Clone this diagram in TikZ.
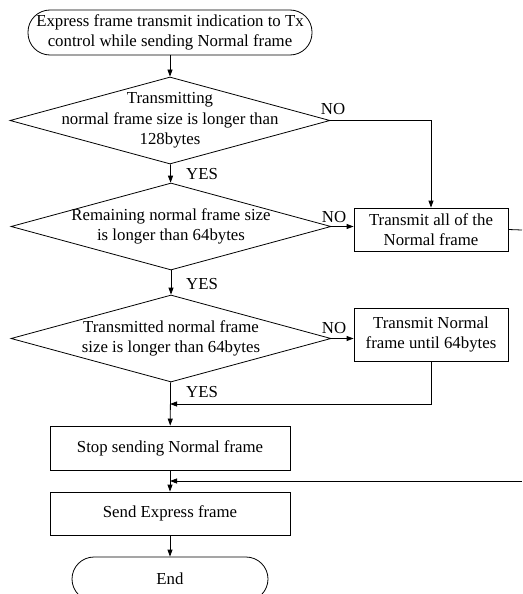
\documentclass[tikz,border=0pt]{standalone}
\usepackage{fontspec}
\setmainfont{Liberation Serif}
\usetikzlibrary{shapes.geometric,arrows.meta}
\begin{document}
\begin{tikzpicture}[x = 1pt, y = -1pt, line width = 0.8pt,
		font = \fontsize{16.8}{20.5}\selectfont,
		decision/.style = {diamond, draw, minimum width = 320pt, minimum height = 87pt, inner sep = 0pt},
		process/.style = {rectangle, draw, align = center, minimum width = 240pt, minimum height = 44pt, inner sep = 0pt},
		sidebox/.style = {rectangle, draw, align = center, minimum width = 154pt, inner sep = 0pt},
		terminal/.style = {rectangle, draw, rounded corners = 22pt, align = center, minimum height = 45pt, inner sep = 0pt},
		flow/.style = {-{Triangle[length = 7pt, width = 5pt]}},
		answer/.style = {inner sep = 0pt}]
		\useasboundingbox (0,0) rectangle (522,594);
		\clip (0,0) rectangle (522,594);
		% main column
		\node [terminal, minimum width = 284pt] (start) at (170,32.5) {Express frame transmit indication to Tx\\control while sending Normal frame};
		\node [decision] (d1) at (170,120.5) {};
		\node [align = center] (t1) at (d1) {Transmitting\\normal frame size is longer than\\128bytes};
		\node [decision] (d2) at (171,226.5) {};
		\node [align = center] (t2) at (d2) {Remaining normal frame size\\is longer than 64bytes};
		\node [decision] (d3) at (171,338.5) {};
		\node [align = center] (t3) at (d3) {Transmitted normal frame\\size is longer than 64bytes};
		\node [process] (stop) at (170,448) {Stop sending Normal frame};
		\node [process, minimum height = 43pt] (send) at (170,513.5) {Send Express frame};
		\node [terminal, minimum width = 196pt, minimum height = 44pt] (end) at (170,579) {End};
		% side column
		\node [sidebox, minimum height = 43pt] (all) at (431,229.5) {Transmit all of the\\Normal frame};
		\node [sidebox, minimum height = 53pt] (part) at (431,334.5) {Transmit Normal\\frame until 64bytes};
		\coordinate (outall) at (522,230);
		\coordinate (join1) at (170,404);
		\coordinate (inall) at (522,481);
		\coordinate (join2) at (170,481);
		% connectors
		\draw [flow] (start) -- (d1);
		\draw [flow] (d1) -- (d2);
		\draw [flow] (d2) -- (d3);
		\draw [flow] (d3) -- (stop);
		\draw [flow] (stop) -- (send);
		\draw [flow] (send) -- (end);
		\draw [flow] (d1.east) -| (all.north);
		\draw [flow] (d2.east) -- (d2.east -| all.west);
		\draw [flow] (d3.east) -- (d3.east -| part.west);
		\draw (all.east) -- (outall);
		\draw [flow] (part.south) |- (join1);
		\draw [flow] (inall) -- (join2);
		% answers
		\node [answer] (no1) at (333,109) {NO};
		\node [answer] (no2) at (334,217) {NO};
		\node [answer] (no3) at (334,328) {NO};
		\node [answer] (yes1) at (202,174) {YES};
		\node [answer] (yes2) at (202,284) {YES};
		\node [answer] (yes3) at (202,392) {YES};
	\end{tikzpicture}
\end{document}
